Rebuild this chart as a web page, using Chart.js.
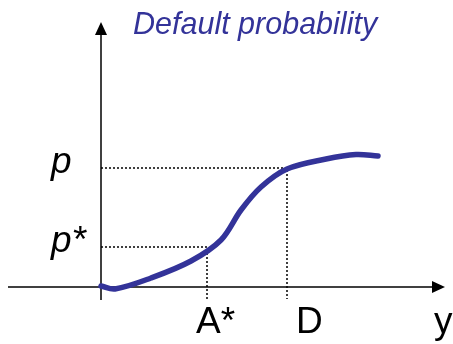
<!DOCTYPE html>
<html lang="en">
<head>
  <meta charset="UTF-8" />
  <title>Default probability</title>
  <script src="https://cdn.jsdelivr.net/npm/chart.js"></script>
  <style>
    html, body { margin: 0; padding: 0; background: #fff; }
    #wrap { width: 453px; height: 344px; }
  </style>
</head>
<body>
  <div id="wrap"><canvas id="chart"></canvas></div>
  <script>
    // curve (arbitrary units, origin at the axes crossing)
    const curveX = [0, 0.14, 0.5, 0.9, 1.2, 1.4, 1.6, 1.86, 2.25, 2.55, 2.77];
    const curveY = [0.01, -0.02, 0.09, 0.26, 0.47, 0.77, 1.00, 1.18, 1.28, 1.325, 1.31];

    // marked points: A* -> p*, D -> p
    const markX = [1.06, 1.86];
    const markY = [0.40, 1.19];
    const markLabels = ['A*', 'D'];
    const levelLabels = ['p*', 'p'];
    const axisLabelX = 'y';
    const titleText = 'Default probability';

    const blue = '#333399';
    const dropTo = -0.12;

    const curve = curveX.map((x, i) => ({ x, y: curveY[i] }));
    const guides = markX.map((x, i) => ({
      label: 'guide' + i,
      data: [{ x: 0, y: markY[i] }, { x, y: markY[i] }, { x, y: dropTo }],
      showLine: true,
      borderColor: '#000',
      borderWidth: 1.5,
      borderDash: [2, 2],
      pointRadius: 0,
      tension: 0,
      clip: false
    }));

    const axesPlugin = {
      id: 'axes',
      beforeDatasetsDraw(chart) {
        const { ctx, chartArea, scales } = chart;
        const x0 = scales.x.getPixelForValue(0);
        const y0 = scales.y.getPixelForValue(0);
        ctx.save();
        ctx.strokeStyle = '#000';
        ctx.fillStyle = '#000';
        ctx.lineWidth = 1.5;
        // x axis
        ctx.beginPath();
        ctx.moveTo(chartArea.left, y0);
        ctx.lineTo(chartArea.right - 10, y0);
        ctx.stroke();
        ctx.beginPath();
        ctx.moveTo(chartArea.right, y0);
        ctx.lineTo(chartArea.right - 13, y0 - 6);
        ctx.lineTo(chartArea.right - 13, y0 + 6);
        ctx.closePath();
        ctx.fill();
        // y axis
        ctx.beginPath();
        ctx.moveTo(x0, scales.y.getPixelForValue(dropTo) + 1);
        ctx.lineTo(x0, chartArea.top + 10);
        ctx.stroke();
        ctx.beginPath();
        ctx.moveTo(x0, chartArea.top);
        ctx.lineTo(x0 - 6, chartArea.top + 13);
        ctx.lineTo(x0 + 6, chartArea.top + 13);
        ctx.closePath();
        ctx.fill();
        ctx.restore();
      },
      afterDraw(chart) {
        const { ctx, scales } = chart;
        ctx.save();
        ctx.textAlign = 'left';
        ctx.textBaseline = 'alphabetic';
        ctx.fillStyle = '#000';
        // level labels on the vertical axis
        ctx.font = 'italic 37px "Liberation Sans", Arial, sans-serif';
        levelLabels.forEach((t, i) => {
          ctx.fillText(t, 51, scales.y.getPixelForValue(markY[i]) + 5);
        });
        // mark labels under the horizontal axis
        ctx.font = '37px "Liberation Sans", Arial, sans-serif';
        const offs = [-11, 9];
        markLabels.forEach((t, i) => {
          ctx.fillText(t, scales.x.getPixelForValue(markX[i]) + offs[i], 333);
        });
        ctx.fillText(axisLabelX, 434, 333);
        // title
        ctx.fillStyle = blue;
        ctx.font = 'italic 30.5px "Liberation Sans", Arial, sans-serif';
        ctx.fillText(titleText, 133, 34);
        ctx.restore();
      }
    };

    new Chart(document.getElementById('chart'), {
      type: 'scatter',
      data: {
        datasets: [
          {
            label: 'Default probability',
            data: curve,
            showLine: true,
            borderColor: blue,
            borderWidth: 5.5,
            borderCapStyle: 'round',
            pointRadius: 0,
            tension: 0.35,
            clip: false
          },
          ...guides
        ]
      },
      options: {
        responsive: true,
        maintainAspectRatio: false,
        animation: false,
        layout: { padding: { left: 8, right: 8, top: 22, bottom: 44 } },
        plugins: { legend: { display: false }, tooltip: { enabled: false } },
        scales: {
          x: { type: 'linear', min: -0.93, max: 3.44, display: false },
          y: { type: 'linear', min: -0.13, max: 2.65, display: false }
        }
      },
      plugins: [axesPlugin]
    });
  </script>
</body>
</html>
